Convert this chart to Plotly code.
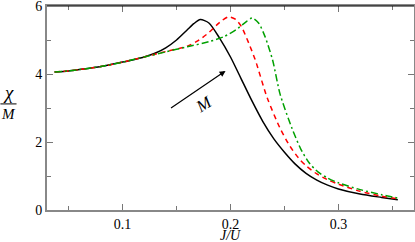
import plotly.graph_objects as go

black_J = [0.037, 0.05, 0.06, 0.08, 0.10, 0.11, 0.12, 0.13, 0.14, 0.15, 0.16, 0.166, 0.172, 0.18, 0.19, 0.20, 0.21, 0.22, 0.23, 0.24, 0.25, 0.26, 0.27, 0.28, 0.29, 0.30, 0.32, 0.34, 0.355]
black_chi = [4.06, 4.09, 4.13, 4.22, 4.35, 4.42, 4.5, 4.61, 4.77, 5.0, 5.3, 5.48, 5.6, 5.5, 5.05, 4.5, 3.85, 3.2, 2.6, 2.1, 1.7, 1.35, 1.08, 0.88, 0.73, 0.62, 0.47, 0.37, 0.3]

red_J = [0.037, 0.05, 0.06, 0.08, 0.10, 0.12, 0.14, 0.16, 0.17, 0.18, 0.19, 0.198, 0.205, 0.21, 0.217, 0.223, 0.234, 0.246, 0.255, 0.263, 0.27, 0.28, 0.29, 0.30, 0.32, 0.34, 0.357]
red_chi = [4.06, 4.09, 4.13, 4.22, 4.35, 4.5, 4.66, 4.82, 4.98, 5.22, 5.52, 5.68, 5.6, 5.4, 4.9, 4.41, 3.3, 2.4, 1.88, 1.53, 1.3, 1.06, 0.89, 0.76, 0.55, 0.41, 0.32]

green_J = [0.037, 0.05, 0.06, 0.08, 0.10, 0.12, 0.14, 0.16, 0.18, 0.194, 0.205, 0.215, 0.220, 0.226, 0.232, 0.239, 0.246, 0.257, 0.265, 0.273, 0.281, 0.29, 0.30, 0.32, 0.34, 0.357]
green_chi = [4.06, 4.09, 4.13, 4.22, 4.35, 4.5, 4.65, 4.8, 4.95, 5.1, 5.3, 5.55, 5.65, 5.5, 5.1, 4.41, 3.4, 2.4, 1.8, 1.38, 1.12, 0.94, 0.8, 0.6, 0.45, 0.34]

x_ticks = [0.1, 0.2, 0.3]
x_tick_labels = ["0.1", "0.2", "0.3"]
y_ticks = [0, 2, 4, 6]
y_tick_labels = ["0", "2", "4", "6"]

serif = "Liberation Serif"

fig = go.Figure()
fig.add_trace(go.Scatter(x=black_J, y=black_chi, mode="lines", line=dict(color="black", width=1.5, shape="spline", smoothing=0.7)))
fig.add_trace(go.Scatter(x=red_J, y=red_chi, mode="lines", line=dict(color="#ff0000", width=1.5, dash="5px,4px", shape="spline", smoothing=0.7)))
fig.add_trace(go.Scatter(x=green_J, y=green_chi, mode="lines", line=dict(color="#00a000", width=1.5, dash="7px,3px,2px,3px", shape="spline", smoothing=0.7)))

axis_common = dict(
    showgrid=False, zeroline=False, showline=True, linecolor="#888888", linewidth=2,
    mirror="ticks", ticks="inside", ticklen=6, tickwidth=1, tickcolor="#777777",
    tickfont=dict(family=serif, size=14, color="black"), automargin=False,
    ticklabeloverflow="allow",
)
fig.update_xaxes(range=[0.03, 0.37], tickvals=x_ticks, ticktext=x_tick_labels, ticklabelstandoff=0,
                 minor=dict(tickvals=[0.05, 0.15, 0.25, 0.35], ticks="inside", ticklen=4, tickcolor="#777777"),
                 **axis_common)
fig.update_yaxes(range=[0, 6], tickvals=y_ticks, ticktext=y_tick_labels,
                 minor=dict(tickvals=[1, 3, 5], ticks="inside", ticklen=4, tickcolor="#777777"),
                 **axis_common)

# top border black
fig.add_shape(type="line", xref="paper", yref="paper", x0=0, x1=1, y0=1, y1=1, line=dict(color="black", width=1.2))

# arrow and M label
fig.add_annotation(x=0.1954, y=4.09, ax=0.1435, ay=2.97, xref="x", yref="y", axref="x", ayref="y",
                   showarrow=True, arrowhead=2, arrowsize=1, arrowwidth=1.2, arrowcolor="black", text="")
fig.add_annotation(x=0.175, y=3.1, text="<i>M</i>", showarrow=False, textangle=-32,
                   font=dict(family=serif, size=17, color="black"))

# x-axis title
fig.add_annotation(x=0.5, y=-0.124, xref="paper", yref="paper", text="<i>J/U</i>", showarrow=False,
                   xanchor="center", yanchor="middle", font=dict(family=serif, size=14, color="black"))

# y-axis title as a fraction chi / M
fig.add_annotation(x=-0.105, y=0.575, xref="paper", yref="paper", text="<i>χ</i>", showarrow=False,
                   xanchor="center", yanchor="middle", font=dict(family=serif, size=19, color="black"))
fig.add_annotation(x=-0.105, y=0.47, xref="paper", yref="paper", text="<i>M</i>", showarrow=False,
                   xanchor="center", yanchor="middle", font=dict(family=serif, size=15, color="black"))
fig.add_shape(type="line", xref="paper", yref="paper", x0=-0.127, x1=-0.083, y0=0.52, y1=0.52,
              line=dict(color="black", width=1))

fig.update_layout(
    width=415, height=242, margin=dict(l=47, r=1, t=6, b=32),
    paper_bgcolor="white", plot_bgcolor="white", showlegend=False,
)

fig.write_html("out.html", config={"displayModeBar": False},
               post_script="document.body.style.margin='0px';")
